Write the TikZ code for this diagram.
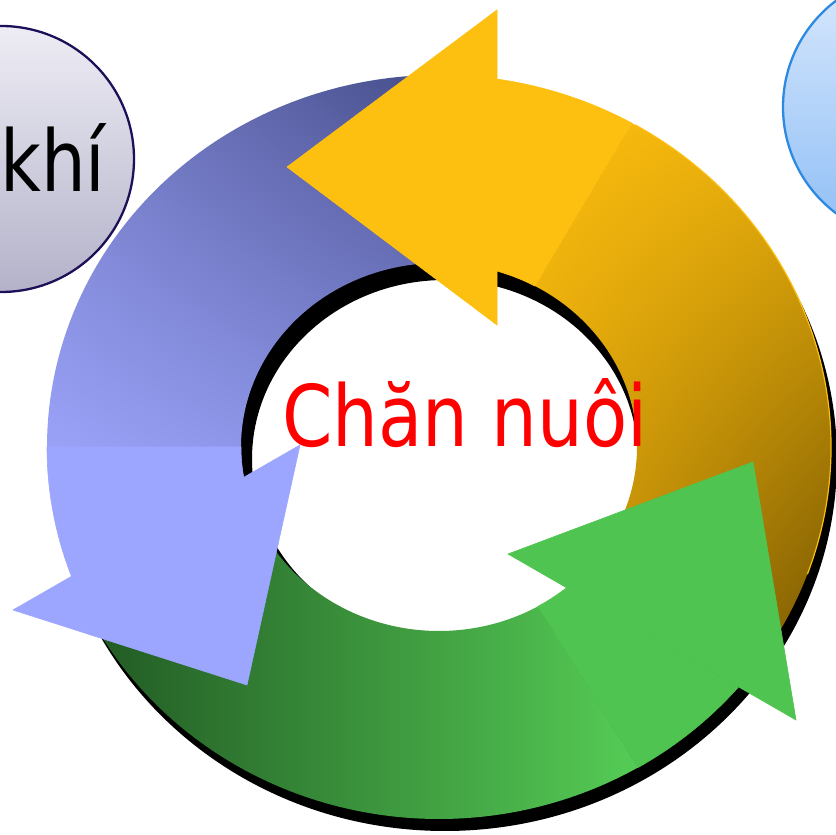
\documentclass[tikz,border=0pt]{standalone}
\usepackage{fontspec}
\usepackage{graphicx}
\usetikzlibrary{calc,shadings}
\newfontfamily\labelfont{DejaVu Sans}

% flat colours of the three arrows
\definecolor{yflat}{HTML}{FDBF10}
\definecolor{bflat}{HTML}{9CA6FF}
\definecolor{gflat}{HTML}{50C450}
% gradient stops
\definecolor{bUL}{HTML}{767DC8}
\definecolor{bUR}{HTML}{404782}
\definecolor{bLL}{HTML}{9AA2F8}
\definecolor{bLR}{HTML}{8088D8}
\definecolor{yUL}{HTML}{FCBD0F}
\definecolor{yUR}{HTML}{E8AE0B}
\definecolor{yLL}{HTML}{D29B08}
\definecolor{yLR}{HTML}{6E5000}
\definecolor{gL}{HTML}{225A24}
\definecolor{gR}{HTML}{55CC55}
% side circles
\definecolor{lcTop}{HTML}{EEEDF5}
\definecolor{lcBot}{HTML}{B3B2C9}
\definecolor{lcLine}{HTML}{1E1058}
\definecolor{rcTop}{HTML}{D9E8FC}
\definecolor{rcBot}{HTML}{8EBEF6}
\definecolor{rcLine}{HTML}{2E8AE0}

% one piece of the ring: outer arc #1->#2, straight edge, inner arc #3->#4
\newcommand\ringseg[4]{($(c)+(#1:392 and 372)$)
  arc[start angle=#1, end angle=#2, x radius=392, y radius=372]
  -- ($(c)+(#3:198 and 184)$)
  arc[start angle=#3, end angle=#4, x radius=198, y radius=184] -- cycle}

\tikzset{
  sidecircle/.style={line width=2.3pt},
  bigword/.style={inner sep=0pt, font=\labelfont\fontsize{85}{100}\selectfont},
  flatpart/.style={fill=#1, draw=#1, line width=0.6pt, line join=round},
}

\begin{document}
\begin{tikzpicture}[x=1pt, y=1pt]
\useasboundingbox (0,0) rectangle (836,835);
\clip (0,0) rectangle (836,835);

\coordinate (c) at (439,388);
\coordinate (cs) at (445,376);

% side circles
\shadedraw[sidecircle, top color=lcTop, bottom color=lcBot, draw=lcLine]
  (1,676) circle[radius=133];
\node[bigword, anchor=base west] (khi) at (0,643) {\scalebox{0.83}[1]{khí}};
\shadedraw[sidecircle, top color=rcTop, bottom color=rcBot, draw=rcLine]
  (916,728) circle[radius=133];

% drop shadow of the ring
\fill[black, even odd rule]
  (cs) ellipse[x radius=392, y radius=372]
  (cs) ellipse[x radius=193, y radius=179];

% yellow band
\shade[upper left=yUL, upper right=yUR, lower left=yLL, lower right=yLR]
  \ringseg{-36}{60.5}{61}{-44};
\draw[yflat, line width=1.2pt]
  ($(c)+(-20:392 and 372)$) arc[start angle=-20, end angle=60, x radius=392, y radius=372];
\path[flatpart=yflat] \ringseg{60.5}{81.5}{73}{61};

% blue band
\shade[upper left=bUL, upper right=bUR, lower left=bLL, lower right=bLR]
  \ringseg{85}{180}{180}{80};
\path[flatpart=bflat] \ringseg{180}{200.35}{189.5}{180};

% green band
\shade[left color=gL, right color=gR] \ringseg{208}{300.5}{300}{200};
\path[flatpart=gflat] \ringseg{300.5}{319.8}{310.1}{300};

% arrow heads
\coordinate (ytip) at (287,668);
\coordinate (yout) at (497,825);
\coordinate (yin)  at (497,510);
\coordinate (btip) at (247,150);
\coordinate (bout) at (13,225);
\coordinate (bin)  at (300,390);
\coordinate (gtip) at (753,373);
\coordinate (gout) at (796,115);
\coordinate (gin)  at (508,281);
\path[flatpart=yflat, line join=miter] (ytip) -- (yout) -- (yin) -- cycle;
\path[flatpart=bflat, line join=miter] (btip) -- (bout) -- (bin) -- cycle;
\path[flatpart=gflat, line join=miter] (gtip) -- (gout) -- (gin) -- cycle;

% centre label
\node[bigword, anchor=base west, text=red] (title) at (282,388)
  {\scalebox{0.85}[1]{Chăn nuôi}};
\end{tikzpicture}
\end{document}
